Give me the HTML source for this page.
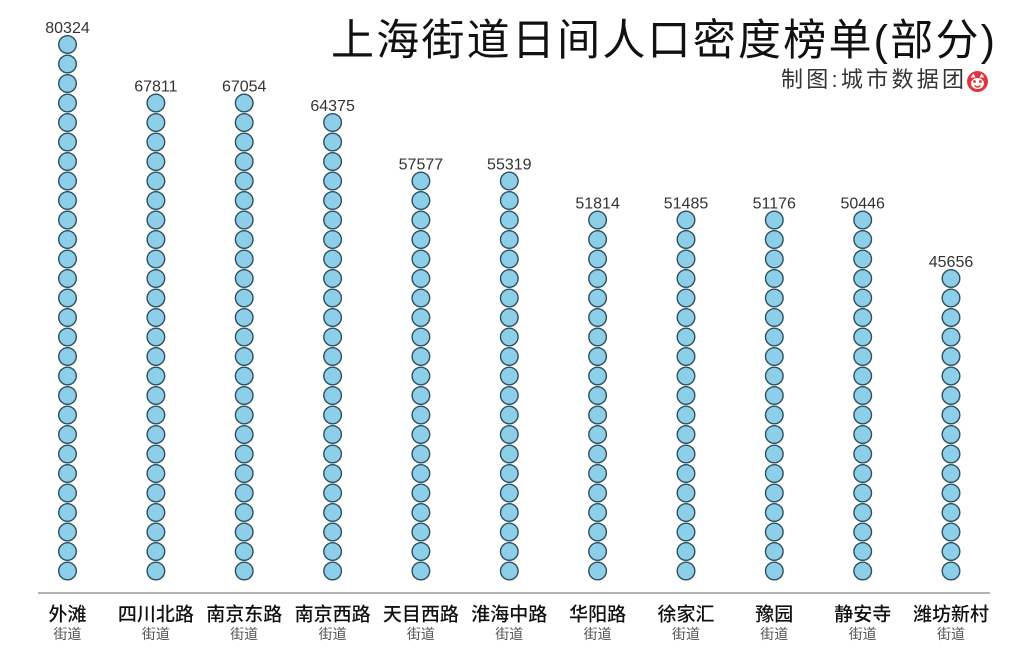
<!DOCTYPE html>
<html><head><meta charset="utf-8"><style>
html,body{margin:0;padding:0;background:#fff;}
svg{display:block;}
.v{font-family:"Liberation Sans",sans-serif;font-size:16px;fill:#333;text-anchor:middle;}
.c{font-family:"Liberation Sans","Noto Sans CJK SC",sans-serif;font-size:19px;font-weight:500;fill:#111;text-anchor:middle;}
.s{font-family:"Liberation Sans","Noto Sans CJK SC",sans-serif;font-size:14px;fill:#555;text-anchor:middle;}
</style></head><body>
<svg width="1024" height="654" viewBox="0 0 1024 654" xmlns="http://www.w3.org/2000/svg">
<defs>
<g id="a"><circle cy="571" r="8.8"/><circle cy="551.5" r="8.8"/><circle cy="532" r="8.8"/><circle cy="512.5" r="8.8"/><circle cy="493" r="8.8"/><circle cy="473.5" r="8.8"/><circle cy="454" r="8.8"/><circle cy="434.5" r="8.8"/><circle cy="415" r="8.8"/><circle cy="395.5" r="8.8"/><circle cy="376" r="8.8"/><circle cy="356.5" r="8.8"/><circle cy="337" r="8.8"/><circle cy="317.5" r="8.8"/><circle cy="298" r="8.8"/><circle cy="278.5" r="8.8"/></g>
<g id="b"><circle cy="259" r="8.8"/><circle cy="239.5" r="8.8"/><circle cy="220" r="8.8"/></g>
<g id="c"><circle cy="200.5" r="8.8"/><circle cy="181" r="8.8"/></g>
<g id="d"><circle cy="161.5" r="8.8"/><circle cy="142" r="8.8"/><circle cy="122.5" r="8.8"/></g>
<g id="e"><circle cy="103" r="8.8"/></g>
<g id="f"><circle cy="83.5" r="8.8"/><circle cy="64" r="8.8"/><circle cy="44.5" r="8.8"/></g>
</defs>

<text x="331" y="55" textLength="664" lengthAdjust="spacing" style="font-family:'Liberation Sans','Noto Sans CJK SC',sans-serif;font-size:43px;fill:#111;">上海街道日间人口密度榜单(部分)</text>
<text x="781" y="87" textLength="183" lengthAdjust="spacing" style="font-family:'Liberation Sans','Noto Sans CJK SC',sans-serif;font-size:22px;fill:#333;">制图:城市数据团</text>
<g transform="translate(977.5,81.5)">
<circle r="10.5" fill="#e5333b"/>
<ellipse cx="0" cy="2" rx="6.5" ry="5.5" fill="#fff"/>
<circle cx="-3" cy="0" r="1.4" fill="#e5333b"/>
<circle cx="3" cy="0" r="1.4" fill="#e5333b"/>
<path d="M-3 4 Q0 7 3 4" stroke="#e5333b" stroke-width="1.3" fill="none"/>
<path d="M-7 -4 L-4 -8 L-2 -4 Z M7 -4 L4 -8 L2 -4 Z" fill="#fff"/>
</g>

<g fill="#8dcfe9" stroke="#2e4f5e" stroke-width="1.4">
<g transform="translate(67.5,0)"><use href="#a"/><use href="#b"/><use href="#c"/><use href="#d"/><use href="#e"/><use href="#f"/></g>
<g transform="translate(155.9,0)"><use href="#a"/><use href="#b"/><use href="#c"/><use href="#d"/><use href="#e"/></g>
<g transform="translate(244.2,0)"><use href="#a"/><use href="#b"/><use href="#c"/><use href="#d"/><use href="#e"/></g>
<g transform="translate(332.6,0)"><use href="#a"/><use href="#b"/><use href="#c"/><use href="#d"/></g>
<g transform="translate(420.9,0)"><use href="#a"/><use href="#b"/><use href="#c"/></g>
<g transform="translate(509.3,0)"><use href="#a"/><use href="#b"/><use href="#c"/></g>
<g transform="translate(597.6,0)"><use href="#a"/><use href="#b"/></g>
<g transform="translate(686,0)"><use href="#a"/><use href="#b"/></g>
<g transform="translate(774.3,0)"><use href="#a"/><use href="#b"/></g>
<g transform="translate(862.7,0)"><use href="#a"/><use href="#b"/></g>
<g transform="translate(951,0)"><use href="#a"/></g>
</g>

<text class="v" x="67.5" y="33">80324</text>
<text class="v" x="155.9" y="91.5">67811</text>
<text class="v" x="244.2" y="91.5">67054</text>
<text class="v" x="332.6" y="111">64375</text>
<text class="v" x="420.9" y="169.5">57577</text>
<text class="v" x="509.3" y="169.5">55319</text>
<text class="v" x="597.6" y="208.5">51814</text>
<text class="v" x="686" y="208.5">51485</text>
<text class="v" x="774.3" y="208.5">51176</text>
<text class="v" x="862.7" y="208.5">50446</text>
<text class="v" x="951" y="267">45656</text>

<line x1="38" y1="593" x2="990" y2="593" stroke="#9a9a9a" stroke-width="1.5"/>

<text class="c" x="67.5" y="620.5">外滩</text>
<text class="c" x="155.9" y="620.5">四川北路</text>
<text class="c" x="244.2" y="620.5">南京东路</text>
<text class="c" x="332.6" y="620.5">南京西路</text>
<text class="c" x="420.9" y="620.5">天目西路</text>
<text class="c" x="509.3" y="620.5">淮海中路</text>
<text class="c" x="597.6" y="620.5">华阳路</text>
<text class="c" x="686" y="620.5">徐家汇</text>
<text class="c" x="774.3" y="620.5">豫园</text>
<text class="c" x="862.7" y="620.5">静安寺</text>
<text class="c" x="951" y="620.5">潍坊新村</text>

<text class="s" x="67.5" y="639">街道</text>
<text class="s" x="155.9" y="639">街道</text>
<text class="s" x="244.2" y="639">街道</text>
<text class="s" x="332.6" y="639">街道</text>
<text class="s" x="420.9" y="639">街道</text>
<text class="s" x="509.3" y="639">街道</text>
<text class="s" x="597.6" y="639">街道</text>
<text class="s" x="686" y="639">街道</text>
<text class="s" x="774.3" y="639">街道</text>
<text class="s" x="862.7" y="639">街道</text>
<text class="s" x="951" y="639">街道</text>
</svg>
</body></html>
